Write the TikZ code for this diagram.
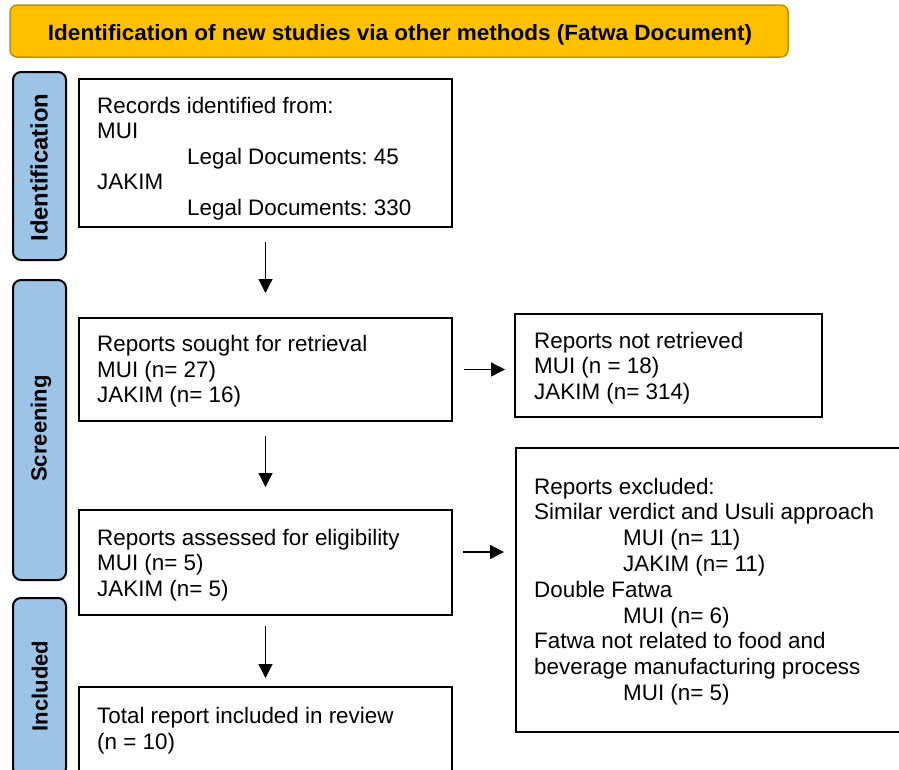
\documentclass[tikz,border=0pt]{standalone}
\usepackage{fontspec}
\setmainfont{Liberation Sans}
\usetikzlibrary{arrows.meta}
\frenchspacing
\definecolor{bannerfill}{HTML}{FFC000}
\definecolor{bannerdraw}{HTML}{BF9000}
\definecolor{sidefill}{HTML}{9DC3E6}
\tikzset{
  box/.style={draw=black, line width=2pt, fill=white, inner sep=0pt},
  sidebox/.style={draw=black, line width=2pt, fill=sidefill, rounded corners=8pt, inner sep=0pt, minimum width=53pt},
  sidetxt/.style={rotate=90, anchor=base, inner sep=0pt, font=\fontsize{22}{26}\selectfont\bfseries},
  txt/.style={anchor=base west, inner sep=0pt, font=\fontsize{22.4}{26}\selectfont\frenchspacing},
  arr/.style={line width=1.3pt, -{Triangle[length=14pt,width=14pt]}}
}
\begin{document}
\begin{tikzpicture}[x=1pt,y=-1pt]
\useasboundingbox (0,0) rectangle (899,769);
% banner
\node[draw=bannerdraw, line width=1.5pt, fill=bannerfill, rounded corners=7pt, minimum width=778pt, minimum height=52pt, inner sep=0pt] (banner) at (399,31) {};
\node[anchor=base, inner sep=0pt] (bannertxt) at (400,40) {\resizebox{704pt}{16pt}{\fontsize{22}{26}\selectfont\bfseries Identification of new studies via other methods (Fatwa Document)}};
% side labels
\node[sidebox, minimum height=188pt] (sid) at (39.5,166) {};
\node[sidetxt] (sidt) at (47.7,167.5) {\resizebox{148pt}{!}{Identification}};
\node[sidebox, minimum height=300pt] (sscr) at (39.5,430) {};
\node[sidetxt] (sscrt) at (46.5,428.5) {Screening};
\node[sidebox, minimum height=178pt] (sinc) at (39.5,687) {};
\node[sidetxt] (sinct) at (47.7,686) {Included};
% boxes
\node[box, minimum width=373pt, minimum height=148pt] (b1) at (265.5,153) {};
\node[box, minimum width=373pt, minimum height=103pt] (b2) at (265.5,369.5) {};
\node[box, minimum width=307pt, minimum height=103pt] (b3) at (668.5,365.5) {};
\node[box, minimum width=373pt, minimum height=105pt] (b4) at (265.5,562.5) {};
\node[box, minimum width=389pt, minimum height=284pt] (b5) at (710.5,590) {};
\node[box, minimum width=373pt, minimum height=95pt] (b6) at (265.5,734.5) {};
% box 1 text
\node[txt] (t11) at (97,113.3) {Records identified from:};
\node[txt] (t12) at (97,138.8) {MUI};
\node[txt] (t13) at (187,164.3) {Legal Documents: 45};
\node[txt] (t14) at (97,189.8) {JAKIM};
\node[txt] (t15) at (187,215.3) {Legal Documents: 330};
% box 2 text
\node[txt] (t21) at (97,351.7) {Reports sought for retrieval};
\node[txt] (t22) at (97,377.2) {MUI (n= 27)};
\node[txt] (t23) at (97,402.7) {JAKIM (n= 16)};
% box 3 text
\node[txt] (t31) at (534,348.3) {Reports not retrieved};
\node[txt] (t32) at (534,373.8) {MUI (n = 18)};
\node[txt] (t33) at (534,399.3) {JAKIM (n= 314)};
% box 4 text
\node[txt] (t41) at (97,545) {Reports assessed for eligibility};
\node[txt] (t42) at (97,570.5) {MUI (n= 5)};
\node[txt] (t43) at (97,596) {JAKIM (n= 5)};
% box 5 text
\node[txt] (t51) at (534,494) {Reports excluded:};
\node[txt] (t52) at (534,519.8) {Similar verdict and Usuli approach};
\node[txt] (t53) at (623,545.6) {MUI (n= 11)};
\node[txt] (t54) at (623,571.4) {JAKIM (n= 11)};
\node[txt] (t55) at (534,597.2) {Double Fatwa};
\node[txt] (t56) at (623,623) {MUI (n= 6)};
\node[txt] (t57) at (534,648.8) {Fatwa not related to food and};
\node[txt] (t58) at (534,674.6) {beverage manufacturing process};
\node[txt] (t59) at (623,700.4) {MUI (n= 5)};
% box 6 text
\node[txt] (t61) at (97,723.3) {Total report included in review};
\node[txt] (t62) at (97,749) {(n = 10)};
% arrows
\draw[arr, shorten <=14pt, shorten >=24pt] (b1.south) -- (b2.north);
\draw[arr, shorten <=14pt, shorten >=22pt] (b2.south) -- (b4.north);
\draw[arr, shorten <=10pt, shorten >=8pt] (b4.south) -- (b6.north);
\draw[arr, shorten <=11pt, shorten >=9pt] (b2.east) -- (b2.east -| b3.west);
\draw[arr, shorten <=10pt, shorten >=11pt] ([yshift=10.5pt]b4.east) -- ([yshift=10.5pt]b4.east -| b5.west);
\end{tikzpicture}
\end{document}
